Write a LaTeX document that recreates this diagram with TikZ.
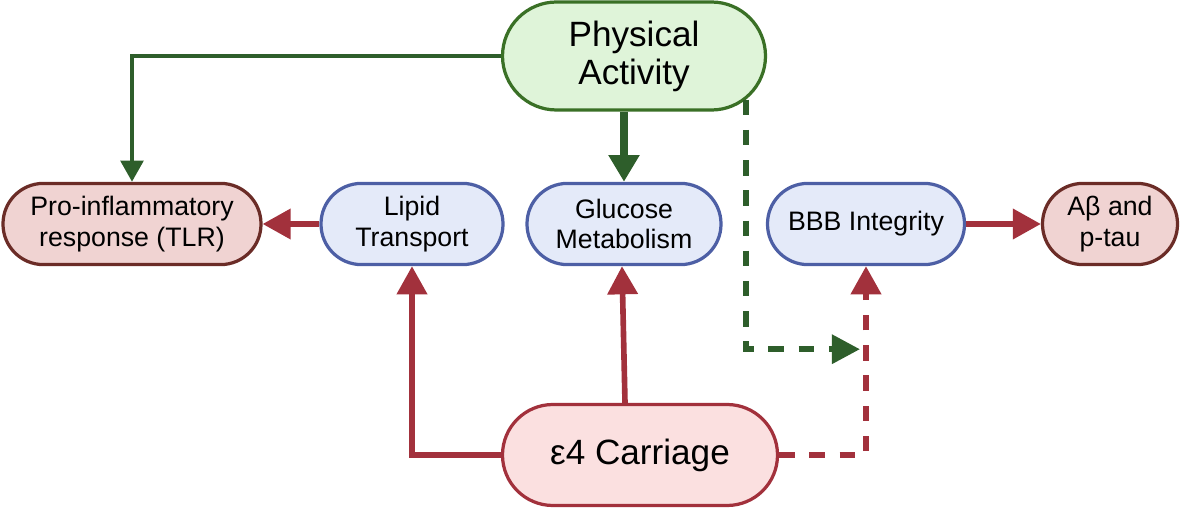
\documentclass[tikz,border=0pt]{standalone}
\usepackage{fontspec}
\setmainfont{Liberation Sans}
\usetikzlibrary{positioning, arrows.meta}
\definecolor{pafill}{HTML}{DFF4D9}
\definecolor{padraw}{HTML}{3A7026}
\definecolor{darkgreen}{HTML}{2E5E2B}
\definecolor{bluefill}{HTML}{E4EAF9}
\definecolor{bluedraw}{HTML}{4D5FA5}
\definecolor{rosefill}{HTML}{F0D3D2}
\definecolor{rosedraw}{HTML}{6B2C27}
\definecolor{pinkfill}{HTML}{FBE0E0}
\definecolor{darkred}{HTML}{A2313C}

\begin{document}
\begin{tikzpicture}[on grid, node distance=5.3cm, font=\fontsize{19}{21.5}\selectfont,
	box/.style={draw, line width=2.3pt, align=center, inner sep=0pt, minimum height=2.03cm, rounded corners=1.01cm},
	bluebox/.style={box, fill=bluefill, draw=bluedraw},
	rosebox/.style={box, fill=rosefill, draw=rosedraw},
	bigbox/.style={box, font=\fontsize{25}{27}\selectfont},
	greenline/.style={darkgreen, line width=2.8pt, -{Triangle[length=15pt, width=16pt]}},
	greenthick/.style={darkgreen, line width=6pt, -{Triangle[length=19pt, width=21pt]}},
	greendash/.style={darkgreen, line width=4.3pt, dash pattern=on 11pt off 10.5pt, -{Triangle[length=20pt, width=20pt]}},
	redline/.style={darkred, line width=4pt, -{Triangle[length=20pt, width=21pt]}},
	reddash/.style={redline, dash pattern=on 11pt off 10.5pt}]
	\useasboundingbox (0,0) rectangle (29.5,12.7);
	
	\node[bluebox, minimum width=4.85cm] (GM) at (15.6,7.1) {Glucose\\Metabolism};
	\node[bluebox, minimum width=4.55cm] (LT) [left=5.3cm of GM] {Lipid\\Transport};
	\node[rosebox, minimum width=6.45cm] (TLR) [left=7cm of LT] {Pro-inflammatory\\response (TLR)};
	\node[bluebox, minimum width=4.925cm] (BBB) [right=6.05cm of GM] {BBB Integrity};
	\node[rosebox, minimum width=3.375cm] (AB) [right=6.1cm of BBB] {Aβ and\\p-tau};
	\node[bigbox, fill=pafill, draw=padraw, minimum width=6.575cm, minimum height=2.7cm, rounded corners=1.35cm] (PA) [above right=4.2cm and 0.25cm of GM] {Physical\\Activity};
	\node[bigbox, fill=pinkfill, draw=darkred, minimum width=6.875cm, minimum height=2.525cm, rounded corners=1.26cm] (E4) [below right=5.775cm and 0.4cm of GM] {ε4 Carriage};
	\coordinate[below left=2.075cm and 0.15cm of BBB.south] (M);
	
	\draw[greenline] (PA.west) -| (TLR.north);
	\draw[greenthick] (GM.north |- PA.south) -- (GM.north);
	\draw[greendash] ([xshift=2.8cm, yshift=0.3cm]PA.south) |- (M);
	
	\draw[redline] (LT.west) -- (TLR.east);
	\draw[redline] (BBB.east) -- (AB.west);
	\draw[redline] (E4.west) -| (LT.south);
	\draw[redline] ([xshift=-0.375cm]E4.north) -- ([xshift=-0.05cm]GM.south);
	\draw[reddash] (E4.east) -| (BBB.south);
	
\end{tikzpicture}
\end{document}
